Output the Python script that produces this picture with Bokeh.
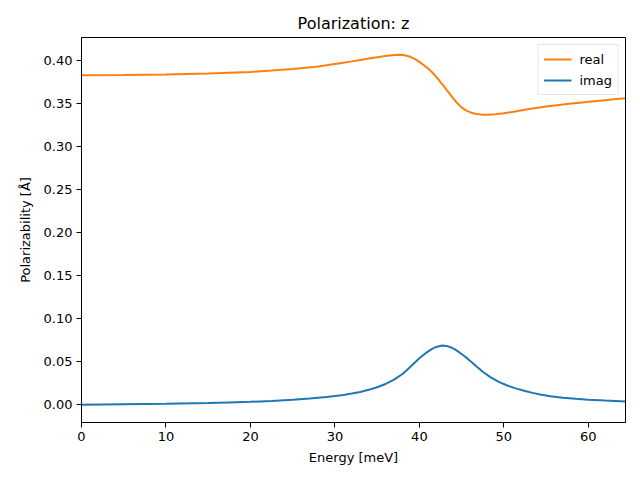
from bokeh.plotting import figure
from bokeh.models import Range1d, FixedTicker, Legend, LegendItem, NumeralTickFormatter
from bokeh.embed import file_html
from bokeh.resources import INLINE

# Energy grid and values
energy_real = [0, 5, 10, 15, 20, 22.5, 25, 27.5, 28, 29, 30, 31, 32, 33, 34, 35, 36, 37, 37.5, 38,
               38.5, 39, 39.5, 40, 40.5, 41, 41.5, 42, 42.5, 43, 43.5, 44, 44.5, 45, 45.5, 46,
               46.5, 47, 47.5, 48, 49, 50, 51, 52, 53, 54, 55, 56, 57, 58, 59, 60, 61, 62, 63, 64.4]
real_vals = [0.3825, 0.3827, 0.3834, 0.3846, 0.3864, 0.3879, 0.3897, 0.3921, 0.3927, 0.3941,
             0.3956, 0.3971, 0.3986, 0.4002, 0.4018, 0.4033, 0.4048, 0.4059, 0.4062, 0.4060,
             0.4052, 0.4036, 0.4011, 0.3980, 0.3944, 0.3905, 0.3860, 0.3806, 0.3746, 0.3683,
             0.3619, 0.3557, 0.3500, 0.3452, 0.3418, 0.3396, 0.3381, 0.3371, 0.3366, 0.3366,
             0.3372, 0.3384, 0.3399, 0.3416, 0.3433, 0.3448, 0.3462, 0.3474, 0.3485, 0.3496,
             0.3506, 0.3516, 0.3526, 0.3536, 0.3546, 0.3558]

energy_imag = [0, 5, 10, 15, 17.5, 20, 22.5, 25, 27, 29, 30, 31, 32, 33, 34, 35, 36, 37, 38, 38.5,
               39, 39.5, 40, 40.5, 41, 41.5, 42, 42.7, 43.2, 43.7, 44.2, 44.7, 45.2, 45.7, 46.3,
               46.8, 47.5, 48.4, 49.4, 50.4, 51.4, 52.4, 53.4, 54.3, 55.5, 57, 58.5, 60, 62, 64.4]
imag_vals = [0.0, 0.0006, 0.0012, 0.0021, 0.0028, 0.0035, 0.0045, 0.006, 0.0074, 0.0092,
             0.0102, 0.0115, 0.0131, 0.015, 0.0174, 0.0204, 0.0242, 0.0292, 0.0358, 0.0402,
             0.0448, 0.0495, 0.0540, 0.0582, 0.0618, 0.0650, 0.0672, 0.0688, 0.0684, 0.0669,
             0.0644, 0.0611, 0.0575, 0.0536, 0.0486, 0.0443, 0.0384, 0.0322, 0.0267, 0.0224,
             0.0191, 0.0163, 0.0139, 0.0119, 0.0100, 0.0083, 0.0070, 0.0060, 0.0049, 0.0038]

x_ticks = [0, 10, 20, 30, 40, 50, 60]
y_ticks = [0.0, 0.05, 0.10, 0.15, 0.20, 0.25, 0.30, 0.35, 0.40]

FONT = "DejaVu Sans"

p = figure(width=640, height=480, output_backend="svg", toolbar_location=None,
           x_range=Range1d(0, 64.4), y_range=Range1d(-0.0205, 0.4263),
           title="Polarization: z", min_border_left=81, min_border_right=15,
           min_border_top=37, min_border_bottom=58)

p.title.align = "center"
p.title.text_font = FONT
p.title.text_font_size = "16px"
p.title.text_font_style = "normal"
p.title.text_color = "black"

p.xgrid.visible = False
p.ygrid.visible = False
p.outline_line_color = "black"
p.outline_line_alpha = 1.0
p.outline_line_width = 1

p.xaxis.ticker = FixedTicker(ticks=x_ticks)
p.yaxis.ticker = FixedTicker(ticks=y_ticks)
p.yaxis.formatter = NumeralTickFormatter(format="0.00")
p.xaxis.axis_label = "Energy [meV]"
p.yaxis.axis_label = "Polarizability [Å]"
for ax in (p.xaxis, p.yaxis):
    ax.axis_label_text_font = FONT
    ax.axis_label_text_font_size = "13px"
    ax.axis_label_text_font_style = "normal"
    ax.axis_label_text_color = "black"
    ax.major_label_text_font = FONT
    ax.major_label_text_font_size = "13px"
    ax.major_label_text_color = "black"
    ax.minor_tick_line_color = None
    ax.major_tick_out = 5
    ax.major_tick_in = 0
    ax.major_tick_line_color = "black"
    ax.axis_line_color = "black"
    ax.major_label_standoff = 4
p.xaxis.axis_label_standoff = 6
p.yaxis.axis_label_standoff = 8

r_real = p.line(energy_real, real_vals, line_color="#ff7f0e", line_width=2)
r_imag = p.line(energy_imag, imag_vals, line_color="#1f77b4", line_width=2)

legend = Legend(items=[LegendItem(label="real", renderers=[r_real]),
                       LegendItem(label="imag", renderers=[r_imag])],
                location="top_right")
legend.label_text_font = FONT
legend.label_text_font_size = "13px"
legend.label_text_color = "black"
legend.border_line_color = "#cccccc"
legend.border_line_width = 1
legend.background_fill_alpha = 0.8
legend.margin = 7
legend.padding = 5
legend.spacing = 3
legend.glyph_width = 28
legend.glyph_height = 18
legend.label_standoff = 8
legend.label_height = 18
p.add_layout(legend)

open("out.html", "w").write(file_html(p, INLINE))
